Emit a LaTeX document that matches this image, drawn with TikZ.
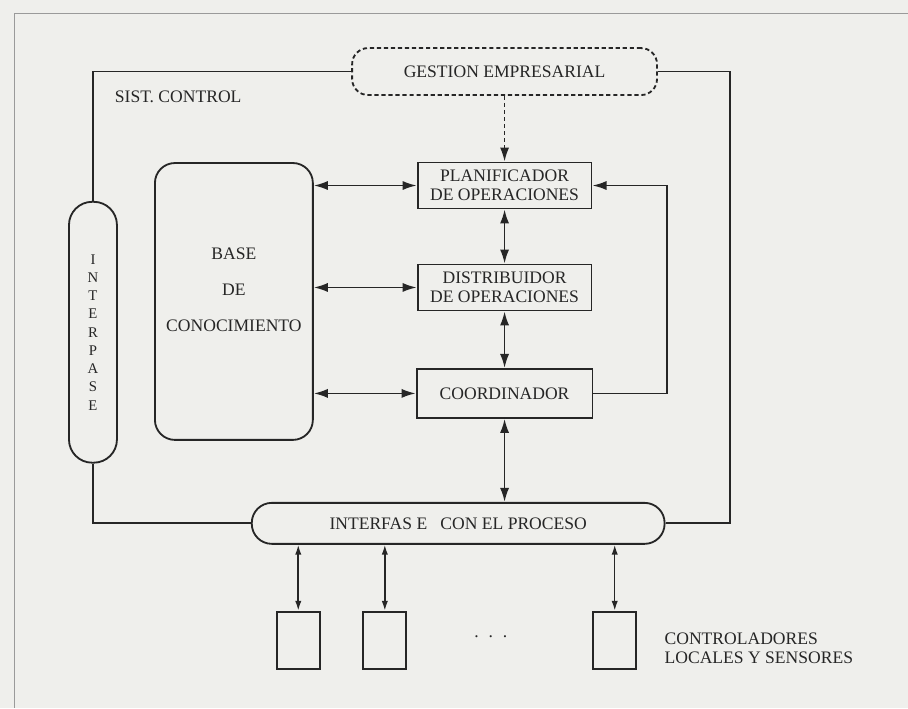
\documentclass[tikz,border=0pt]{standalone}
\usepackage{fontspec}
\setmainfont{Liberation Serif}
\usepackage{tikz}
\usetikzlibrary{arrows.meta, positioning}
\definecolor{scanGray}{HTML}{EFEFEC}
\definecolor{inkDark}{HTML}{262626}
\definecolor{frameGray}{HTML}{9A9A9A}

\begin{document}
\begin{tikzpicture}[
    every node/.style={font=\fontsize{12.5}{13.5}\selectfont, text=inkDark},
    box/.style={draw=inkDark, line width=1.3pt, minimum width=4.35cm, minimum height=1.15cm, align=center, inner sep=0pt},
    pill/.style={draw=inkDark, line width=1.3pt, inner sep=0pt},
    unit/.style={draw=inkDark, line width=1.3pt, minimum width=1.075cm, minimum height=1.425cm, inner sep=0pt},
    link/.style={draw=inkDark, line width=1.3pt},
    thinlink/.style={draw=inkDark, line width=1.1pt, {Latex[length=7pt, width=4.5pt]}-{Latex[length=7pt, width=4.5pt]}},
    >={Latex[length=10pt, width=6.5pt]}
  ]

  % ── Sheet and frame ─────────────────────────────────────────────────────
  \fill[scanGray] (0,0) rectangle (22.7,-17.7);
  \draw[frameGray, line width=0.6pt] (22.7,-0.325) -- (0.35,-0.325) -- (0.35,-17.7);

  % ── Top and side blocks ─────────────────────────────────────────────────
  \node[pill, densely dashed, rounded corners=0.4cm, minimum width=7.625cm, minimum height=1.175cm]
    (gestion) at (12.62,-1.79) {GESTION EMPRESARIAL};
  \node[anchor=west] (sist) at (2.75,-2.43) {SIST. CONTROL};

  \node[pill, rounded corners=0.58cm, minimum width=1.2cm, minimum height=6.525cm,
        align=center, font=\fontsize{10.5}{13}\selectfont]
    (interpase) at (2.325,-8.31) {I\\N\\T\\E\\R\\P\\A\\S\\E};

  % Knowledge base
  \node[draw=inkDark, line width=1.3pt, rounded corners=0.5cm, minimum width=3.95cm, minimum height=6.925cm]
    (base) at (5.85,-7.54) {};
  \node[align=center] (basetext) at ([yshift=0.29cm]base.center)
    {BASE\\[0.43cm]DE\\[0.43cm]CONOCIMIENTO};

  % ── Control column ──────────────────────────────────────────────────────
  \node[box] (plan)    at (12.62,-4.64) {PLANIFICADOR\\DE OPERACIONES};
  \node[box] (distrib) at (12.62,-7.19) {DISTRIBUIDOR\\DE OPERACIONES};
  \node[box, minimum width=4.4cm, minimum height=1.225cm] (coord) at (12.62,-9.84) {COORDINADOR};

  % ── Process interface and field units ───────────────────────────────────
  \node[pill, rounded corners=0.5cm, minimum width=10.325cm, minimum height=1.025cm]
    (proceso) at (11.46,-13.09) {INTERFAS E\ \ \ CON EL PROCESO};

  \node[unit] (u1) at (7.46,-16.01) {};
  \node[unit] (u2) at (9.625,-16.01) {};
  \node[unit] (u3) at (15.375,-16.01) {};
  \node[anchor=base] (dots) at (12.275,-15.95) {.\hspace{7pt}.\hspace{7pt}.};
  \node[anchor=west, align=left] (ctrl) at (16.5,-16.22) {CONTROLADORES\\LOCALES Y SENSORES};

  % ── Outer loop ──────────────────────────────────────────────────────────
  \coordinate (busright) at (18.25,-13.09);
  \draw[link] (gestion.west) -| (interpase.north);
  \draw[link] (interpase.south) |- (proceso.west);
  \draw[link] (proceso.east) -- (busright) |- (gestion.east);

  % ── Arrows ──────────────────────────────────────────────────────────────
  \draw[link, densely dashed, ->] (gestion.south) -- (plan.north);

  \draw[link, <->] (base.east |- plan.west) -- (plan.west);
  \draw[link, <->] (base.east |- distrib.west) -- (distrib.west);
  \draw[link, <->] (base.east |- coord.west) -- (coord.west);

  \draw[link, <->] (plan.south) -- (distrib.north);
  \draw[link, <->] (distrib.south) -- (coord.north);
  \draw[link, <->] (coord.south) -- (coord.south |- proceso.north);

  \coordinate (loopback) at (16.675,-7.2);
  \draw[link, ->] (coord.east) -| (loopback) |- (plan.east);

  \foreach \u in {u1, u2, u3}
    \draw[thinlink] (\u.north |- proceso.south) -- (\u.north);

\end{tikzpicture}
\end{document}
